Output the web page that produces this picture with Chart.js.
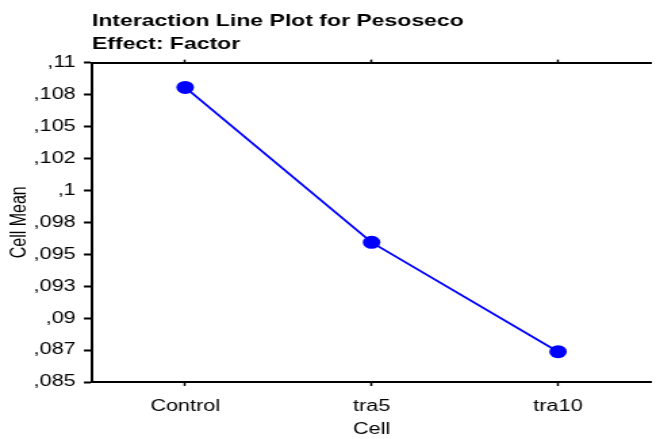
<!DOCTYPE html>
<html>
<head>
<meta charset="utf-8">
<script src="https://cdn.jsdelivr.net/npm/chart.js@4.4.1/dist/chart.umd.min.js"></script>
<style>
  html, body { margin: 0; padding: 0; background: #fff; }
</style>
</head>
<body>
<!-- the reference is stretched sideways, so draw narrow and widen with css -->
<canvas id="plot" width="488" height="439" style="display:block;width:660px;height:439px"></canvas>
<script>
const cells = ['Control', 'tra5', 'tra10'];
const cellMeans = [0.10806, 0.09593, 0.08737];
const yTickValues = [0.085, 0.0875, 0.09, 0.0925, 0.095, 0.0975, 0.1, 0.1025, 0.105, 0.1075, 0.11];
const yTickLabels = [',085', ',087', ',09', ',093', ',095', ',098', ',1', ',102', ',105', ',108', ',11'];

const fontFamily = '"Liberation Sans", Arial, Helvetica, sans-serif';
const black = '#000';
const blue = '#0000ff';

const chart = new Chart(document.getElementById('plot'), {
  type: 'line',
  data: {
    labels: cells,
    datasets: [
      {
        data: cellMeans,
        borderColor: blue,
        borderWidth: 1.8,
        backgroundColor: blue,
        pointBackgroundColor: blue,
        pointBorderWidth: 0,
        pointRadius: 6.5,
        pointHoverRadius: 6.5,
        fill: false,
        tension: 0,
        xAxisID: 'x',
        yAxisID: 'y',
      },
    ],
  },
  options: {
    responsive: false,
    animation: false,
    layout: { padding: { left: 0, right: 0, top: 0, bottom: 0 } },
    plugins: {
      legend: { display: false },
      tooltip: { enabled: false },
      title: {
        display: true,
        text: ['Interaction Line Plot for Pesoseco', 'Effect: Factor'],
        align: 'start',
        fullSize: false,
        color: black,
        font: { family: fontFamily, size: 17, weight: 'bold', lineHeight: 1.4 },
        padding: { top: 9, bottom: 3 },
      },
    },
    scales: {
      x: {
        type: 'category',
        position: 'bottom',
        offset: true,
        grid: {
          drawOnChartArea: false,
          drawTicks: true,
          tickLength: 4,
          tickWidth: 1.5,
          tickColor: black,
        },
        border: { display: true, color: black, width: 2 },
        ticks: {
          color: black,
          padding: 11,
          maxRotation: 0,
          font: { family: fontFamily, size: 16 },
        },
        title: {
          display: true,
          text: 'Cell',
          color: black,
          font: { family: fontFamily, size: 16 },
          padding: { top: 2, bottom: 0 },
        },
        afterFit: scale => { scale.height = 57; },
      },
      x2: {
        type: 'category',
        position: 'top',
        offset: true,
        grid: {
          drawOnChartArea: false,
          drawTicks: true,
          tickLength: 3,
          tickWidth: 1.5,
          tickColor: black,
        },
        border: { display: true, color: black, width: 2 },
        ticks: { display: false },
      },
      y: {
        min: 0.085,
        max: 0.11,
        grid: {
          drawOnChartArea: false,
          drawTicks: true,
          tickLength: 6,
          tickWidth: 2,
          tickColor: black,
        },
        border: { display: true, color: black, width: 2 },
        afterBuildTicks: axis => {
          axis.ticks = yTickValues.map(v => ({ value: v }));
        },
        ticks: {
          color: black,
          padding: 6,
          font: { family: fontFamily, size: 16 },
          callback: (value, index) => yTickLabels[index],
        },
        title: {
          display: true,
          text: 'Cell Mean',
          color: black,
          font: { family: fontFamily, size: 16 },
          padding: { top: 5, bottom: 0 },
        },
        afterFit: scale => { scale.width = 68; },
      },
    },
  },
});
</script>
</body>
</html>
